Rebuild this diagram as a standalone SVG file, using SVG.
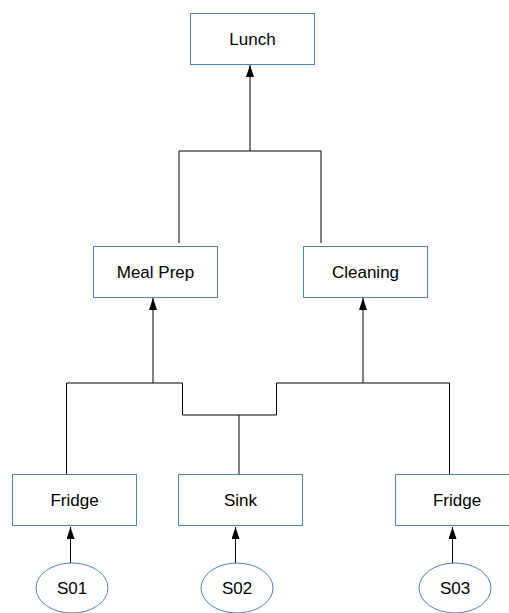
<svg xmlns="http://www.w3.org/2000/svg" width="509" height="613" viewBox="0 0 509 613">
<style>
.box{fill:#fff;stroke:#4f81bd;stroke-width:1}
.lbl{font-family:"Liberation Sans",Arial,sans-serif;font-size:17px;fill:#000;text-anchor:middle}
.ln{fill:none;stroke:#000;stroke-width:1}
</style>
<defs>
<marker id="ah" viewBox="0 0 12 8" refX="12" refY="4" markerWidth="12" markerHeight="8" markerUnits="userSpaceOnUse" orient="auto">
<path d="M0,0 L12,4 L0,8 z" fill="#000"/>
</marker>
</defs>
<rect width="509" height="613" fill="#fff"/>
<g id="connectors">
<path class="ln" d="M179,243 V151 H321 V243"/>
<path class="ln" d="M250,151 V65" marker-end="url(#ah)"/>
<path class="ln" d="M66.5,475 V383 H182.5 V415 H276.5 V383 H449.5 V475"/>
<path class="ln" d="M239,415 V475"/>
<path class="ln" d="M153,383 V298" marker-end="url(#ah)"/>
<path class="ln" d="M363,383 V298" marker-end="url(#ah)"/>
<path class="ln" d="M70.5,563 V527" marker-end="url(#ah)"/>
<path class="ln" d="M235.5,563 V527" marker-end="url(#ah)"/>
<path class="ln" d="M452.5,563 V527" marker-end="url(#ah)"/>
</g>
<g id="lunch"><rect class="box" x="190.5" y="13.5" width="124" height="51"/><text class="lbl" x="252.5" y="45">Lunch</text></g>
<g id="mealprep"><rect class="box" x="93.5" y="246.5" width="124" height="51"/><text class="lbl" x="155.5" y="278">Meal Prep</text></g>
<g id="cleaning"><rect class="box" x="303.5" y="246.5" width="124" height="51"/><text class="lbl" x="365.5" y="278">Cleaning</text></g>
<g id="fridge1"><rect class="box" x="12.5" y="474.5" width="124" height="51"/><text class="lbl" x="74.5" y="506">Fridge</text></g>
<g id="sink"><rect class="box" x="178.5" y="474.5" width="124" height="51"/><text class="lbl" x="240.5" y="506">Sink</text></g>
<g id="fridge2"><rect class="box" x="395.5" y="474.5" width="124" height="51"/><text class="lbl" x="457" y="506">Fridge</text></g>
<g id="s01"><ellipse class="box" cx="72" cy="588" rx="36" ry="25"/><text class="lbl" x="72" y="594">S01</text></g>
<g id="s02"><ellipse class="box" cx="237" cy="588" rx="36" ry="25"/><text class="lbl" x="237" y="594">S02</text></g>
<g id="s03"><ellipse class="box" cx="455" cy="588" rx="36" ry="25"/><text class="lbl" x="455" y="594">S03</text></g>
</svg>
